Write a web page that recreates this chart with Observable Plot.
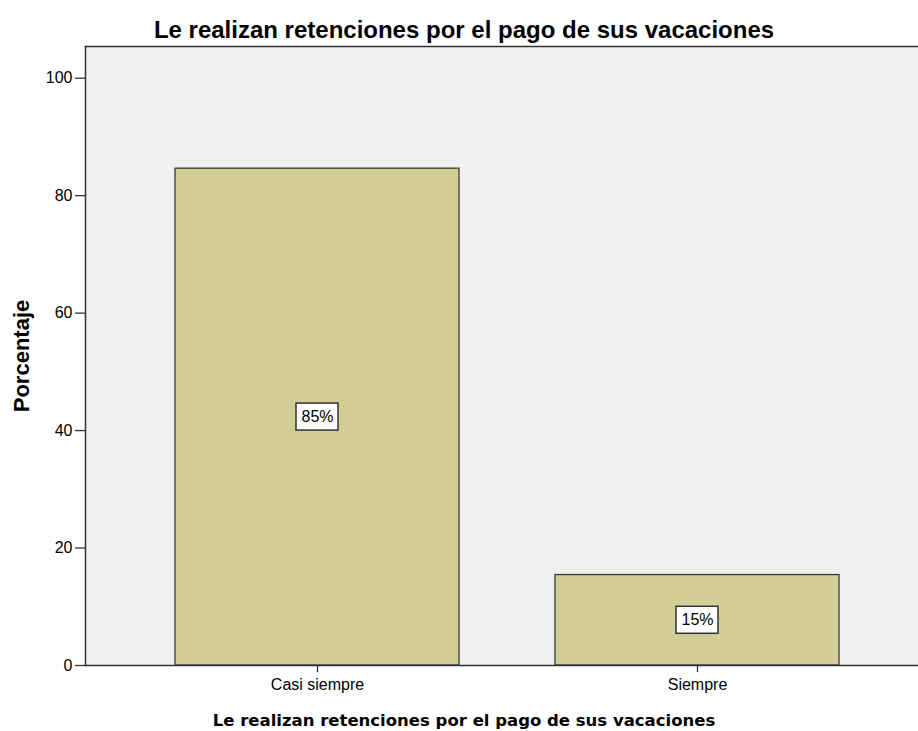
<!DOCTYPE html>
<html><head><meta charset="utf-8">
<script src="https://cdn.jsdelivr.net/npm/d3@7"></script>
<script src="https://cdn.jsdelivr.net/npm/@observablehq/plot@0.6"></script>
<style>body{margin:0;background:#fff} svg{display:block}</style>
</head><body><div id="chart"></div>
<script>
const categories = ["Casi siempre", "Siempre"];
const percentages = [84.6, 15.4];
const labels = ["85%", "15%"];
const yTicks = [0, 20, 40, 60, 80, 100];
const title = "Le realizan retenciones por el pago de sus vacaciones";
const xTitle = "Le realizan retenciones por el pago de sus vacaciones";
const yTitle = "Porcentaje";

const data = categories.map((c, i) => ({category: c, value: percentages[i], label: labels[i]}));

const chart = Plot.plot({
  width: 918, height: 731,
  marginLeft: 85, marginTop: 46, marginBottom: 66, marginRight: 0,
  style: {fontFamily: "'Liberation Sans', Arial, sans-serif", background: "#fff", overflow: "hidden", color: "#000"},
  x: {domain: categories, range: [85, 929], paddingInner: 0.253, paddingOuter: 0.237, label: null},
  y: {domain: [0, 105.4], label: null},
  marks: [
    Plot.frame({fill: "#f0f0f0", stroke: null}),
    Plot.barY(data, {x: "category", y: "value", fill: "#d3ce97", stroke: "#3a3a3a", strokeWidth: 1.3}),
    Plot.frame({anchor: "top", stroke: "#333", strokeWidth: 1.5}),
    Plot.frame({anchor: "left", stroke: "#333", strokeWidth: 1.5}),
    Plot.frame({anchor: "bottom", stroke: "#333", strokeWidth: 1.5}),
    Plot.barY(data, {x: "category", y1: d => d.value / 2, y2: d => d.value / 2,
      insetLeft: 121, insetRight: 121, insetTop: -13.5, insetBottom: -13.5,
      fill: "#fff", stroke: "#333", strokeWidth: 1.5}),
    Plot.text(data, {x: "category", y: d => d.value / 2, text: "label", fontSize: 16, fill: "#000"}),
    Plot.axisY({ticks: yTicks, tickSize: 10, tickPadding: 3, fontSize: 16, label: null, stroke: "#333", strokeWidth: 1.3}),
    Plot.axisX({tickSize: 7, tickPadding: 6, fontSize: 16, label: null, stroke: "#333", strokeWidth: 1.3}),
    Plot.text([title], {frameAnchor: "top", dx: -38, dy: -16, lineAnchor: "middle", fontSize: 24, fontWeight: "bold", fill: "#000"}),
    Plot.text([xTitle], {frameAnchor: "bottom", dx: -38, dy: 55, lineAnchor: "middle", fontSize: 16.5, fontWeight: "bold", fontFamily: "'DejaVu Sans', sans-serif", fill: "#000"}),
    Plot.text([yTitle], {frameAnchor: "left", dx: -64, rotate: -90, textAnchor: "middle", lineAnchor: "middle", fontSize: 22, fontWeight: "bold", fill: "#000"})
  ]
});
document.getElementById("chart").appendChild(chart);
</script>
</body></html>
